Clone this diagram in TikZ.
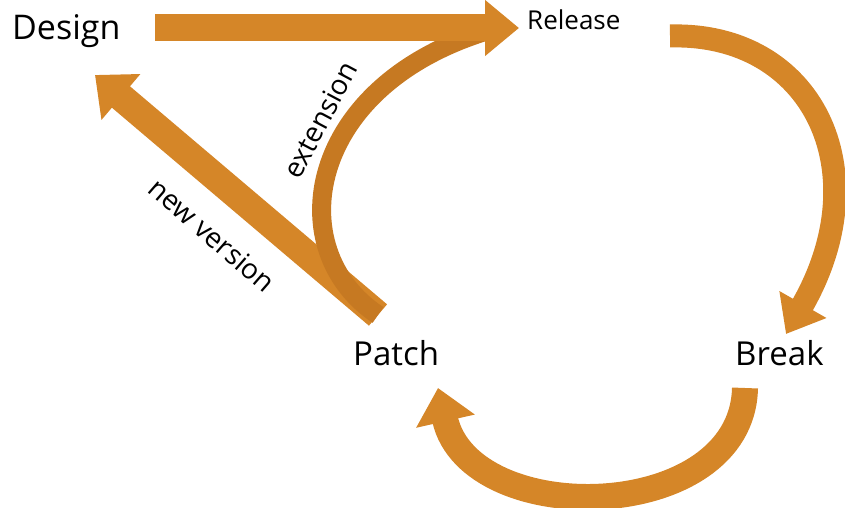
\documentclass[tikz,border=0pt]{standalone}
\usepackage{fontspec}
\setmainfont{Open Sans}
\usetikzlibrary{arrows.meta,positioning}
\definecolor{amber}{RGB}{213,134,40}
\definecolor{amberdark}{RGB}{198,121,34}
\tikzset{stage/.style={inner sep=0pt,anchor=base west,font=\fontsize{33}{40}\selectfont}}
\tikzset{tag/.style={inner sep=0pt,font=\fontsize{28}{32}\selectfont}}
\tikzset{band/.style={amber,line width=#1}}
\tikzset{head/.style={-{Triangle[width=#1,length=34pt]}}}

\begin{document}
\begin{tikzpicture}[x=1pt,y=-1pt]
        \useasboundingbox (0,0) rectangle (845,508);
        % the four stages
        \node[stage,font=\fontsize{34}{40}\selectfont](design) at (12,40){Design};
        \node[stage,font=\fontsize{26}{32}\selectfont](release) at (527,30){Release};
        \node[stage](patch) at (353,365){Patch};
        \node[stage](break) at (735,365){Break};
        % ends of the bands
        \coordinate(design tail) at (155,28);
        \coordinate(release tip) at (519,28);
        \coordinate(release tail) at (670,36);
        \coordinate(break tip) at (786,334);
        \coordinate(break tail) at (745,388);
        \coordinate(patch tip) at (438,388);
        \coordinate(patch tail) at (378,315);
        \coordinate(design tip) at (95,75);
        \coordinate(merge) at (490,30);
        % patch back to design, and the extension loop
        \draw[band=28pt,head=58pt] (patch tail) -- (design tip);
        \draw[band=19pt,amberdark] (patch tail) .. controls (280,250) and (305,85) .. (merge);
        \draw[band=27pt,head=54pt] (design tail) -- (release tip);
        % the release cycle
        \draw[band=23pt,head=52pt] (release tail) .. controls (812,32) and (880,170) .. (break tip);
        \draw[band=26pt,head=58pt] (break tail) .. controls (742,525) and (470,530) .. (patch tip);
        \node[tag,rotate=62](ext) at (320,120){extension};
        \node[tag,rotate=-41](newver) at (212,235){new version};
      \end{tikzpicture}
\end{document}
